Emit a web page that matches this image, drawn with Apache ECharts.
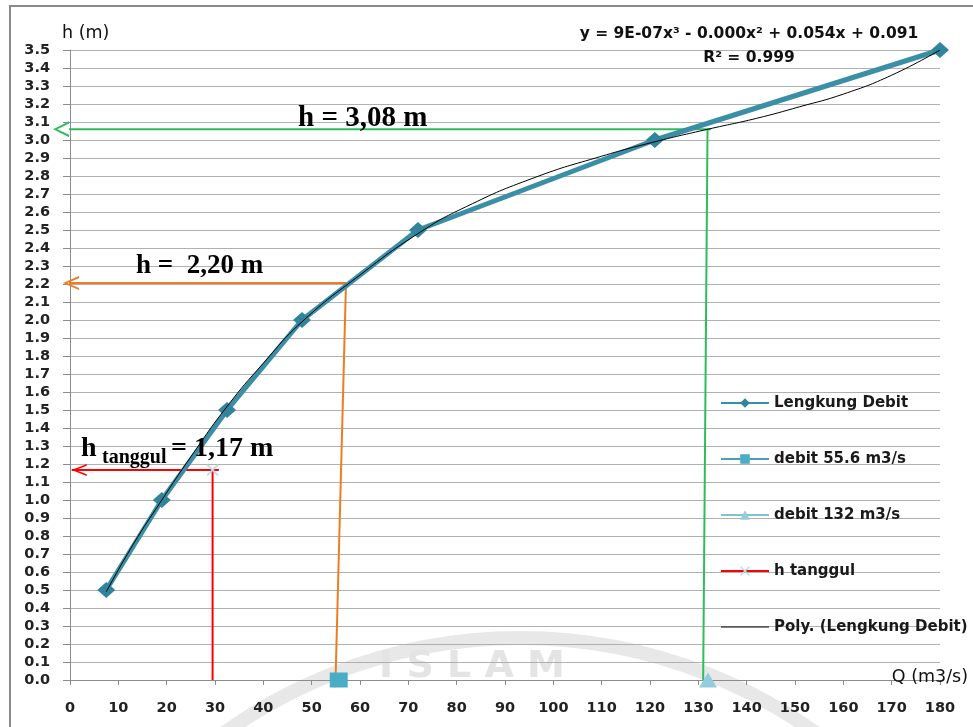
<!DOCTYPE html>
<html>
<head>
<meta charset="utf-8">
<script src="https://cdn.jsdelivr.net/npm/echarts@6/dist/echarts.min.js"></script>
<style>
  html, body { margin: 0; padding: 0; background: #fff; }
  #chart { width: 973px; height: 727px; }
</style>
</head>
<body>
<div id="chart"></div>
<script>
// Lengkung Debit (measured points)
const qDebit = [7.5, 19, 32.5, 48, 72, 121, 180];
const hDebit = [0.5, 1.0, 1.5, 2.0, 2.5, 3.0, 3.5];
// Poly. (Lengkung Debit)
const qPoly = [7.5, 13, 19, 25, 32.5, 40, 48, 60, 72, 82, 96, 110, 121, 132, 142, 151, 160, 170, 180];
const hPoly = [0.49, 0.75, 1.0, 1.24, 1.52, 1.76, 1.99, 2.25, 2.48, 2.63, 2.79, 2.91, 2.99, 3.06, 3.12, 3.185, 3.255, 3.36, 3.5];
// single markers on the Q axis
const debit556 = [55.6, 0];
const debit132 = [132, 0];
// h tanggul guide lines
const tanggulH = [[0.35, 1.167], [30.8, 1.167]];
const tanggulV = [[29.5, 1.167], [29.5, 0]];
// orange / green guide lines
const orangeH = [[-1.45, 2.205], [57.1, 2.205]];
const orangeV = [[57.1, 2.205], [54.9, -0.04]];
const greenH = [[-3.5, 3.06], [132.6, 3.06]];
const greenV = [[131.9, 3.06], [131.0, 0]];

const pairs = (xs, ys) => xs.map((x, i) => [x, ys[i]]);

const chevron = 'path://M16,0L0,8L16,16L16,13.6L4.2,8L16,2.4Z';
const cross = 'path://M0,1L1,0L5,4L9,0L10,1L6,5L10,9L9,10L5,6L1,10L0,9L4,5Z';

function arrowData(seg, size, color) {
  return [
    { value: seg[0], symbol: chevron, symbolSize: size, symbolOffset: ['50%', 0], itemStyle: { color: color } },
    { value: seg[1], symbol: 'none' }
  ];
}

const sans = 'DejaVu Sans';

var chartDom = document.getElementById('chart');
var myChart = echarts.init(chartDom);
var option;

option = {
  animation: false,
  backgroundColor: '#fff',
  grid: { left: 70, top: 50, right: 33, bottom: 47, containLabel: false },
  xAxis: {
    type: 'value',
    min: 0,
    max: 180,
    interval: 10,
    axisLine: { show: true, lineStyle: { color: '#8c8c8c', width: 1 } },
    axisTick: { show: true, length: 5, lineStyle: { color: '#8c8c8c' } },
    axisLabel: { margin: 21, color: '#222', fontFamily: sans, fontWeight: 'bold', fontSize: 14.5 },
    splitLine: { show: false }
  },
  yAxis: {
    type: 'value',
    min: 0,
    max: 3.5,
    interval: 0.1,
    axisLine: { show: true, lineStyle: { color: '#8c8c8c', width: 1 } },
    axisTick: { show: true, length: 7, lineStyle: { color: '#8c8c8c' } },
    axisLabel: {
      margin: 20, color: '#222', fontFamily: sans, fontWeight: 'bold', fontSize: 14.5,
      formatter: (v) => v.toFixed(1)
    },
    splitLine: { show: true, lineStyle: { color: '#b0b0b0', width: 1 } }
  },
  legend: {
    orient: 'vertical',
    left: 720,
    top: 395,
    padding: 0,
    itemWidth: 48,
    itemHeight: 12,
    itemGap: 40,
    textStyle: { fontFamily: sans, fontWeight: 'bold', fontSize: 15, color: '#1a1a1a', lineHeight: 16 },
    data: [
      { name: 'Lengkung Debit', lineStyle: { width: 2 } },
      { name: 'debit 55.6 m3/s', lineStyle: { width: 2 } },
      { name: 'debit 132 m3/s', lineStyle: { width: 2 } },
      { name: 'h tanggul', lineStyle: { width: 2 } },
      { name: 'Poly. (Lengkung Debit)', lineStyle: { width: 1 }, itemStyle: { opacity: 0 } }
    ]
  },
  graphic: [
    { type: 'rect', silent: true, z: 0,
      shape: { x: 10, y: 6, width: 1000, height: 1000 },
      style: { fill: null, stroke: '#8a8a8a', lineWidth: 2 } },
    // faint watermark
    { type: 'circle', silent: true, z: -10,
      shape: { cx: 520, cy: 1146, r: 508 },
      style: { fill: null, stroke: '#e8e8e8', lineWidth: 14 } },
    { type: 'text', silent: true, z: -10,
      style: { x: 472, y: 667, text: 'I S L A M', fill: '#e4e4e4', font: 'bold 38px DejaVu Sans',
        textAlign: 'center', textVerticalAlign: 'middle' } },
    // axis names
    { type: 'text', silent: true, z: 50,
      style: { x: 62, y: 33, text: 'h (m)', fill: '#111', font: '17.5px DejaVu Sans', textVerticalAlign: 'middle' } },
    { type: 'text', silent: true, z: 50,
      style: { x: 968, y: 677, text: 'Q (m3/s)', fill: '#111', font: '17.5px DejaVu Sans',
        textAlign: 'right', textVerticalAlign: 'middle' } },
    // trendline equation
    { type: 'text', silent: true, z: 50,
      style: { x: 749, y: 34, text: 'y = 9E-07x³ - 0.000x² + 0.054x + 0.091', fill: '#111',
        font: 'bold 15.5px DejaVu Sans', textAlign: 'center', textVerticalAlign: 'middle' } },
    { type: 'text', silent: true, z: 50,
      style: { x: 749, y: 58, text: 'R² = 0.999', fill: '#111',
        font: 'bold 15.5px DejaVu Sans', textAlign: 'center', textVerticalAlign: 'middle' } },
    // annotations
    { type: 'text', silent: true, z: 50,
      style: { x: 298, y: 119, text: 'h = 3,08 m', fill: '#000',
        font: 'bold 29px Liberation Serif', textVerticalAlign: 'middle' } },
    { type: 'text', silent: true, z: 50,
      style: { x: 136, y: 266, text: 'h =  2,20 m', fill: '#000',
        font: 'bold 27px Liberation Serif', textVerticalAlign: 'middle' } },
    { type: 'text', silent: true, z: 50,
      style: { x: 81, y: 449, text: 'h', fill: '#000',
        font: 'bold 28px Liberation Serif', textVerticalAlign: 'middle' } },
    { type: 'text', silent: true, z: 50,
      style: { x: 102, y: 458, text: 'tanggul', fill: '#000',
        font: 'bold 20px Liberation Serif', textVerticalAlign: 'middle' } },
    { type: 'text', silent: true, z: 50,
      style: { x: 171, y: 449, text: '= 1,17 m', fill: '#000',
        font: 'bold 28px Liberation Serif', textVerticalAlign: 'middle' } }
  ],
  series: [
    {
      name: 'h tanggul',
      type: 'line',
      clip: false,
      z: 3,
      symbol: cross,
      symbolSize: 10,
      itemStyle: { color: '#b7dde8' },
      lineStyle: { color: '#ff0000', width: 2 },
      data: arrowData(tanggulH, [15, 12], '#ff0000')
    },
    {
      name: 'h tanggul',
      type: 'line',
      clip: false,
      z: 3,
      symbol: cross,
      symbolSize: 12,
      itemStyle: { color: '#b7dde8' },
      lineStyle: { color: '#ff0000', width: 2 },
      data: [{ value: tanggulV[0], symbol: cross, symbolSize: 12 }, { value: tanggulV[1], symbol: 'none' }]
    },
    {
      name: 'orange',
      type: 'line',
      clip: false,
      z: 3,
      lineStyle: { color: '#ee7d22', width: 2 },
      data: arrowData(orangeH, [16, 14], '#ee7d22')
    },
    {
      name: 'orange',
      type: 'line',
      clip: false,
      z: 3,
      symbol: 'none',
      lineStyle: { color: '#ee7d22', width: 2 },
      data: orangeV
    },
    {
      name: 'green',
      type: 'line',
      clip: false,
      z: 3,
      lineStyle: { color: '#2fbd5c', width: 2 },
      data: arrowData(greenH, [16, 16], '#2fbd5c')
    },
    {
      name: 'green',
      type: 'line',
      clip: false,
      z: 3,
      symbol: 'none',
      lineStyle: { color: '#2fbd5c', width: 2 },
      data: greenV
    },
    {
      name: 'Lengkung Debit',
      type: 'line',
      z: 5,
      clip: false,
      symbol: 'diamond',
      symbolSize: [18, 16],
      itemStyle: { color: '#31849b' },
      lineStyle: { color: '#3a8ea5', width: 5 },
      data: pairs(qDebit, hDebit)
    },
    {
      name: 'debit 55.6 m3/s',
      type: 'line',
      z: 6,
      clip: false,
      symbol: 'rect',
      symbolSize: [18, 15],
      itemStyle: { color: '#4bacc6' },
      lineStyle: { color: '#4a9fb8', width: 2 },
      data: [debit556]
    },
    {
      name: 'debit 132 m3/s',
      type: 'line',
      z: 6,
      clip: false,
      symbol: 'triangle',
      symbolSize: [18, 15],
      itemStyle: { color: '#93cddd' },
      lineStyle: { color: '#80c3d8', width: 2 },
      data: [debit132]
    },
    {
      name: 'Poly. (Lengkung Debit)',
      type: 'line',
      z: 7,
      symbol: 'none',
      smooth: true,
      itemStyle: { color: '#000' },
      lineStyle: { color: '#000', width: 1 },
      data: pairs(qPoly, hPoly)
    }
  ]
};

option && myChart.setOption(option);
</script>
</body>
</html>
